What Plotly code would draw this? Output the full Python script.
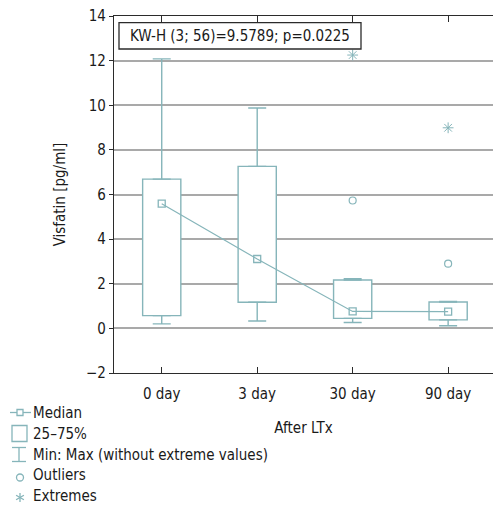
import plotly.graph_objects as go

# ---- data ----
categories = ["0 day", "3 day", "30 day", "90 day"]
q1 = [0.57, 1.17, 0.45, 0.38]
medians = [5.59, 3.11, 0.76, 0.75]
q3 = [6.69, 7.26, 2.17, 1.18]
whisk_min = [0.20, 0.33, 0.26, 0.12]
whisk_max = [12.08, 9.88, 2.23, 1.21]
outlier_cat = ["30 day", "90 day"]
outlier_val = [5.73, 2.90]
extreme_cat = ["30 day", "90 day"]
extreme_val = [12.25, 8.99]
y_ticks = [-2, 0, 2, 4, 6, 8, 10, 12, 14]
stat_text = "KW-H (3; 56)=9.5789; p=0.0225"
legend_labels = ["Median", "25\u201375%", "Min: Max (without extreme values)", "Outliers", "Extremes"]

TEAL = "#86b5ba"
GRID = "#a9a9a9"
AXIS = "#2b2b2b"
FONT = "DejaVu Sans Condensed, Liberation Sans Narrow, sans-serif"
FS = 15

W, H = 493, 505
PL, PR, PT, PB = 114, 493, 16, 373          # plot area in page pixels
L, T, R, B = PL, PT, W - PR, H - PB
PW, PH = PR - PL, PB - PT

def px(xp):
    return (xp - PL) / PW

def py(yp):
    return (PB - yp) / PH

xpos = list(range(len(categories)))
idx = {c: i for i, c in enumerate(categories)}

fig = go.Figure()

# boxes (25-75%)
fig.add_trace(go.Bar(
    x=xpos, y=[b - a for a, b in zip(q1, q3)], base=q1, width=0.4,
    marker=dict(color="white", line=dict(color=TEAL, width=1.4)),
    hoverinfo="skip", showlegend=False))

# upper whiskers
fig.add_trace(go.Scatter(
    x=xpos, y=q3, mode="markers", marker=dict(size=1, color="rgba(0,0,0,0)"),
    error_y=dict(type="data", array=[m - b for m, b in zip(whisk_max, q3)],
                 arrayminus=[0] * len(q3), color=TEAL, thickness=1.4, width=9),
    showlegend=False, hoverinfo="skip"))
# lower whiskers
fig.add_trace(go.Scatter(
    x=xpos, y=q1, mode="markers", marker=dict(size=1, color="rgba(0,0,0,0)"),
    error_y=dict(type="data", array=[0] * len(q1),
                 arrayminus=[a - m for a, m in zip(q1, whisk_min)],
                 color=TEAL, thickness=1.4, width=9),
    showlegend=False, hoverinfo="skip"))

# medians
fig.add_trace(go.Scatter(
    x=xpos, y=medians, mode="lines+markers",
    line=dict(color=TEAL, width=1.2),
    marker=dict(symbol="square-open", size=7, color=TEAL, line=dict(width=1.3)),
    showlegend=False, hoverinfo="skip"))

# outliers
fig.add_trace(go.Scatter(
    x=[idx[c] for c in outlier_cat], y=outlier_val, mode="markers",
    marker=dict(symbol="circle-open", size=7, color=TEAL, line=dict(width=1.2)),
    showlegend=False, hoverinfo="skip"))

# extremes
fig.add_trace(go.Scatter(
    x=[idx[c] for c in extreme_cat], y=extreme_val, mode="markers",
    marker=dict(symbol="asterisk-open", size=9, color=TEAL, line=dict(width=1.0)),
    showlegend=False, hoverinfo="skip"))

shapes = []
annotations = []

# stat annotation box
shapes.append(dict(type="rect", xref="paper", yref="paper",
                   x0=px(119), x1=px(361), y0=py(49), y1=py(22.7),
                   line=dict(color=AXIS, width=1.3), fillcolor="white", layer="above"))
annotations.append(dict(
    text=stat_text, xref="paper", yref="paper", x=px(240), y=py(36),
    xanchor="center", yanchor="middle", showarrow=False,
    font=dict(family=FONT, size=FS, color="#1a1a1a")))

# custom legend
rows = [412.5, 433.5, 454.5, 475.5, 495.5]
for lab, yy in zip(legend_labels, rows):
    annotations.append(dict(
        text=lab, xref="paper", yref="paper", x=px(31), y=py(yy),
        xanchor="left", yanchor="middle", showarrow=False,
        font=dict(family=FONT, size=FS, color="#1a1a1a")))

lw = 1.3
line_sty = dict(color=TEAL, width=lw)
# Median glyph
y0 = rows[0]
shapes.append(dict(type="line", xref="paper", yref="paper", x0=px(10), x1=px(31),
                   y0=py(y0), y1=py(y0), line=line_sty))
shapes.append(dict(type="rect", xref="paper", yref="paper", x0=px(17), x1=px(23),
                   y0=py(y0 - 3), y1=py(y0 + 3), line=line_sty, fillcolor="white"))
# box glyph
y1 = rows[1]
shapes.append(dict(type="rect", xref="paper", yref="paper", x0=px(12), x1=px(27),
                   y0=py(y1 - 8), y1=py(y1 + 8), line=line_sty, fillcolor="white"))
# whisker glyph
y2 = rows[2]
shapes.append(dict(type="line", xref="paper", yref="paper", x0=px(12), x1=px(26),
                   y0=py(y2 - 7), y1=py(y2 - 7), line=line_sty))
shapes.append(dict(type="line", xref="paper", yref="paper", x0=px(19), x1=px(19),
                   y0=py(y2 - 7), y1=py(y2 + 7), line=line_sty))
shapes.append(dict(type="line", xref="paper", yref="paper", x0=px(12), x1=px(26),
                   y0=py(y2 + 7), y1=py(y2 + 7), line=line_sty))
# outlier glyph
y3 = rows[3] + 2
shapes.append(dict(type="circle", xref="paper", yref="paper", x0=px(16.5), x1=px(23.5),
                   y0=py(y3 - 3.5), y1=py(y3 + 3.5), line=line_sty))
# extreme glyph
y4 = rows[4] + 2
shapes.append(dict(type="line", xref="paper", yref="paper", x0=px(20), x1=px(20),
                   y0=py(y4 - 4.5), y1=py(y4 + 4.5), line=line_sty))
shapes.append(dict(type="line", xref="paper", yref="paper", x0=px(16.1), x1=px(23.9),
                   y0=py(y4 - 2.25), y1=py(y4 + 2.25), line=line_sty))
shapes.append(dict(type="line", xref="paper", yref="paper", x0=px(16.1), x1=px(23.9),
                   y0=py(y4 + 2.25), y1=py(y4 - 2.25), line=line_sty))

fig.update_layout(
    width=W, height=H,
    margin=dict(l=L, r=R, t=T, b=B, pad=0, autoexpand=False),
    paper_bgcolor="white", plot_bgcolor="white",
    font=dict(family=FONT, size=FS, color="#1a1a1a"),
    showlegend=False, hovermode=False,
    shapes=shapes, annotations=annotations,
    xaxis=dict(
        range=[-0.5, 3.47], tickvals=xpos, ticktext=categories,
        showgrid=False, zeroline=False, showline=True, linecolor=AXIS, linewidth=1.3,
        mirror="ticks", ticks="inside", ticklen=6, tickcolor=AXIS, tickwidth=1,
        automargin=False, ticklabelstandoff=7,
        title=dict(text="After LTx", standoff=20, font=dict(size=FS)),
        tickfont=dict(size=FS)),
    yaxis=dict(
        range=[-2, 14], tickvals=y_ticks,
        ticktext=[("\u2212" + str(-v)) if v < 0 else str(v) for v in y_ticks],
        showgrid=True, gridcolor=GRID, gridwidth=1.5, zeroline=False,
        showline=True, linecolor=AXIS, linewidth=1.3,
        ticks="outside", ticklen=4, tickcolor=AXIS, tickwidth=1,
        automargin=False,
        title=dict(text="Visfatin [pg/ml]", standoff=16, font=dict(size=FS)),
        tickfont=dict(size=FS)),
)

fig.write_html(
    "out.html",
    config={"displayModeBar": False, "staticPlot": False},
    post_script="document.body.style.margin='0';document.body.style.overflow='hidden';",
)
